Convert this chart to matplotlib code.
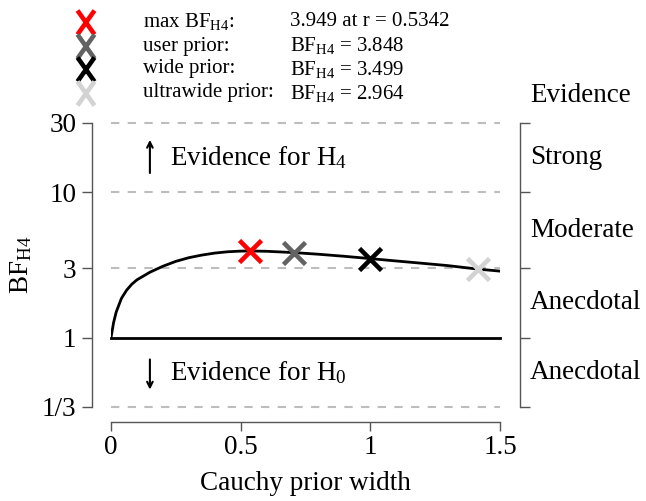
import numpy as np
import matplotlib
matplotlib.use('Agg')
import matplotlib.pyplot as plt
import matplotlib.transforms as mtransforms
from matplotlib.markers import MarkerStyle

plt.rcParams['font.family'] = ['Liberation Serif', 'DejaVu Serif']
plt.rcParams['mathtext.fontset'] = 'custom'
plt.rcParams['mathtext.rm'] = 'Liberation Serif'
plt.rcParams['mathtext.it'] = 'Liberation Serif:italic'

# Robustness curve
prior_width = [0, 0.01, 0.02, 0.04, 0.06, 0.08, 0.1, 0.15, 0.2, 0.25, 0.3, 0.35, 0.4,
               0.45, 0.5, 0.5342, 0.6, 0.707, 0.8, 0.9, 1.0, 1.1, 1.2, 1.3, 1.414, 1.5]
bf_curve = [1.0, 1.27, 1.5, 1.86, 2.12, 2.33, 2.5, 2.82, 3.1, 3.35, 3.55, 3.7, 3.82,
            3.9, 3.94, 3.949, 3.93, 3.848, 3.75, 3.63, 3.499, 3.37, 3.25, 3.13, 2.964, 2.87]

# Highlighted priors
point_names = ['max BF$_{\\mathrm{H4}}$:', 'user prior:', 'wide prior:', 'ultrawide prior:']
point_r = [0.5342, 0.707, 1.0, 1.414]
point_bf = [3.949, 3.848, 3.499, 2.964]
point_colors = ['#ff0000', '#636363', '#000000', '#d3d3d3']
point_texts = ['3.949 at r = 0.5342', 'BF$_{\\mathrm{H4}}$ = 3.848',
               'BF$_{\\mathrm{H4}}$ = 3.499', 'BF$_{\\mathrm{H4}}$ = 2.964']

y_ticks = [1/3, 1, 3, 10, 30]
y_ticklabels = ['1/3', '1', '3', '10', '30']
x_ticks = [0, 0.5, 1, 1.5]
x_ticklabels = ['0', '0.5', '1', '1.5']
evidence_labels = ['Strong', 'Moderate', 'Anecdotal', 'Anecdotal']

W, H = 646, 501
fig = plt.figure(figsize=(W / 100, H / 100), dpi=100)
ax = fig.add_axes([111 / W, (H - 407) / H, 389 / W, 284 / H])
ax.set_yscale('log')
ax.set_xlim(0, 1.5)
ax.set_ylim(1/3, 30)
ax.minorticks_off()

spine_col = '#555555'
fs = 19.5

# grid lines
for yv in [30, 10, 3, 1/3]:
    ax.plot([0, 1.5], [yv, yv], color='#bdbdbd', lw=1.5, ls=(0, (4, 4)), zorder=1, clip_on=False)
ax.plot([0, 1.5], [1, 1], color='black', lw=2, zorder=2, clip_on=False)

ax.plot(prior_width, bf_curve, color='black', lw=2, zorder=3)
for r, bf, c in zip(point_r, point_bf, point_colors):
    ax.plot(r, bf, marker='x', ms=15.5, mew=3.3, color=c, ls='none', zorder=4)

# spines
ax.spines['top'].set_visible(False)
ax.spines['left'].set_position(('outward', 13.7))
ax.spines['left'].set_bounds(1/3, 30)
ax.spines['bottom'].set_position(('outward', 10.8))
ax.spines['bottom'].set_bounds(0, 1.5)
ax.spines['right'].set_position(('outward', 14.4))
ax.spines['right'].set_bounds(1/3, 30)
for s in ['left', 'bottom', 'right']:
    ax.spines[s].set_color(spine_col)
    ax.spines[s].set_linewidth(1)

ax.set_yticks(y_ticks)
ax.set_yticklabels(y_ticklabels)
ax.set_xticks(x_ticks)
ax.set_xticklabels(x_ticklabels)
ax.tick_params(axis='y', which='both', left=True, right=True, labelright=False,
               length=7.2, width=1, color=spine_col, labelsize=fs, pad=4)
ax.tick_params(axis='x', length=6.5, width=1, color=spine_col, labelsize=fs, pad=3)

ax.set_xlabel('Cauchy prior width', fontsize=fs, labelpad=8)
fig.text(21 / W, (H - 265) / H, 'BF$_{\\mathrm{H4}}$', rotation=90, fontsize=fs,
         ha='center', va='center')

# evidence labels on right
trans = mtransforms.blended_transform_factory(ax.transAxes, ax.transData)
mids = [np.sqrt(y_ticks[i] * y_ticks[i + 1]) for i in range(len(y_ticks) - 1)][::-1]
for lab, m in zip(evidence_labels, mids):
    ax.text((530 - 111) / 389, m, lab, transform=trans, fontsize=fs, ha='left', va='center')
ax.text((530 - 111) / 389, 1 + 28 / 284, 'Evidence', transform=ax.transAxes,
        fontsize=fs, ha='left', va='center')

# evidence arrows
ax.annotate('', xy=(0.15, 24), xytext=(0.15, 13),
            arrowprops=dict(arrowstyle='->', lw=1.5, color='black'))
ax.annotate('', xy=(0.15, 0.42), xytext=(0.15, 0.74),
            arrowprops=dict(arrowstyle='->', lw=1.5, color='black'))
ax.text(0.228, np.sqrt(300), 'Evidence for H$_4$', fontsize=fs, ha='left', va='center')
ax.text(0.228, np.sqrt(1/3), 'Evidence for H$_0$', fontsize=fs, ha='left', va='center')

# legend at top (tall, narrow crosses)
leg_marker = MarkerStyle('x', transform=mtransforms.Affine2D().scale(0.72, 1.0))
leg_y = [22, 46, 69, 93]
for yy, c, name, txt in zip(leg_y, point_colors, point_names, point_texts):
    fig.lines.append(plt.Line2D([85 / W], [(H - yy) / H], marker=leg_marker, ms=17, mew=3.3,
                                color=c, ls='none', transform=fig.transFigure))
    fig.text(143 / W, (H - yy) / H, name, fontsize=15, ha='left', va='center')
    fig.text(290 / W, (H - yy) / H, txt, fontsize=15, ha='left', va='center')

fig.savefig('out.png', dpi=100)
